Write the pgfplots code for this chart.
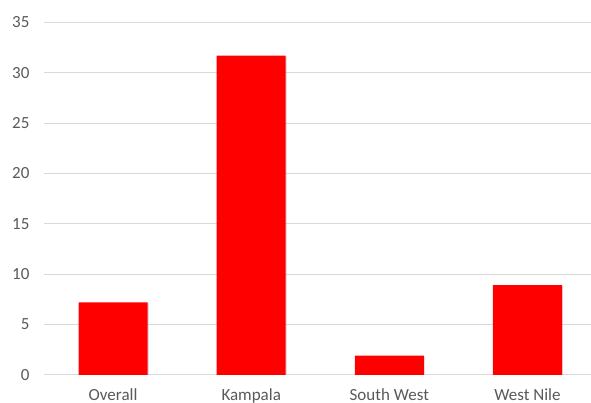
\documentclass[border=0pt]{standalone}
\usepackage{pgfplots}
\pgfplotsset{compat=1.18}
\usepackage{fontspec}
\setmainfont{Carlito}
\definecolor{tickgray}{HTML}{595959}
\definecolor{gridgray}{HTML}{D9D9D9}
\begin{document}
\begin{tikzpicture}[x=1pt,y=1pt]
\begin{axis}[
  at={(0,0)}, anchor=south west,
  scale only axis,
  width=547pt, height=352.5pt,
  xmin=-0.5, xmax=3.46,
  ymin=0, ymax=35,
  ytick={0,5,...,35},
  xtick={0,1,2,3},
  xticklabels={Overall,Kampala,South West,West Nile},
  axis line style={draw=none},
  major tick length=0pt,
  ymajorgrids,
  grid style={gridgray, line width=1pt},
  tick label style={font=\fontsize{17}{20}\selectfont, text=tickgray},
  yticklabel style={xshift=-11pt},
  xticklabel style={yshift=-10pt},
  /pgf/number format/assume math mode=true,
  clip=false,
]
\addplot[ybar, bar width=0.5, fill=black!25, draw=none, opacity=0.5, bar shift=1.2pt] coordinates {
  (0,7.1) (1,31.6) (2,1.8) (3,8.8)
};
\addplot[ybar, bar width=0.5, fill=red, draw=none] coordinates {
  (0,7.2) (1,31.7) (2,1.9) (3,8.9)
};
\end{axis}
\pgfresetboundingbox
\useasboundingbox (-44pt,-28.2pt) rectangle (547pt,374.8pt);
\end{tikzpicture}
\end{document}
